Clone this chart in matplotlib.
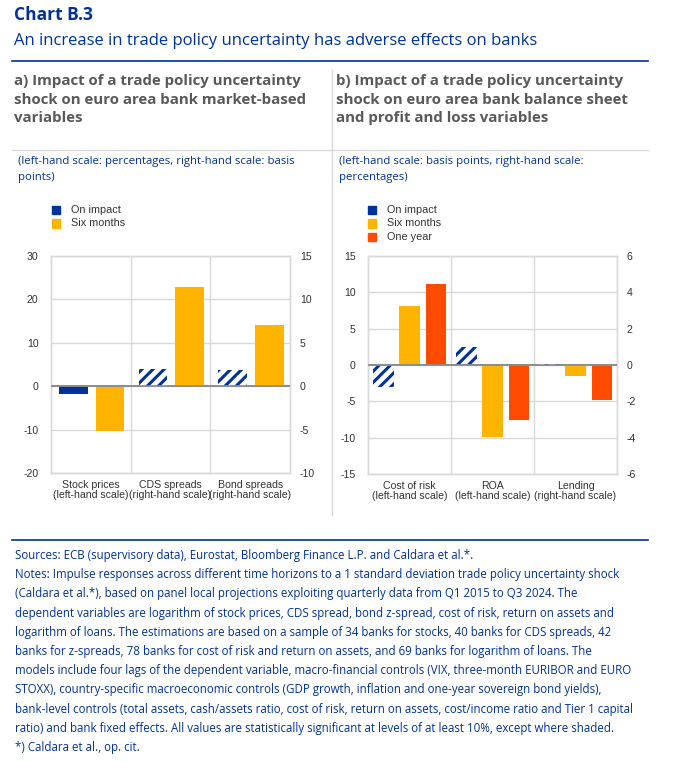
import matplotlib
matplotlib.use("Agg")
import matplotlib.pyplot as plt
from matplotlib.lines import Line2D

plt.rcParams['hatch.linewidth'] = 2.2

BLUE = '#003299'
YELLOW = '#FFB400'
ORANGE = '#FF4B00'
GRID = '#D9D9D9'
ZERO = '#8C8C8C'
TXT = '#333333'

# ---------------- data ----------------
a_categories = ['Stock prices\n(left-hand scale)', 'CDS spreads\n(right-hand scale)', 'Bond spreads\n(right-hand scale)']
a_axis = ['left', 'right', 'right']
a_on_impact = [-1.9, 2.0, 1.85]
a_six_months = [-10.3, 11.4, 7.0]
a_impact_hatched = [False, True, True]
a_left_ticks = [-20, -10, 0, 10, 20, 30]
a_right_ticks = [-10, -5, 0, 5, 10, 15]

b_categories = ['Cost of risk\n(left-hand scale)', 'ROA\n(left-hand scale)', 'Lending\n(right-hand scale)']
b_axis = ['left', 'left', 'right']
b_on_impact = [-3.0, 2.5, 0.06]
b_six_months = [8.1, -9.9, -0.6]
b_one_year = [11.1, -7.6, -1.9]
b_impact_hatched = [True, True, True]
b_left_ticks = [-15, -10, -5, 0, 5, 10, 15]
b_right_ticks = [-6, -4, -2, 0, 2, 4, 6]

FIG_W, FIG_H = 689, 762
fig = plt.figure(figsize=(FIG_W / 100, FIG_H / 100), dpi=100)

def fx(px):
    return px / FIG_W

def fy(py):
    return 1 - py / FIG_H

TICKFONT = dict(family=['Liberation Sans', 'DejaVu Sans'], size=7.6, color=TXT)


def make_panel(rect, categories, axis_side, series, colors, hatched, left_ticks, right_ticks, width, offsets):
    ax = fig.add_axes(rect)
    ax2 = ax.twinx()
    ax.set_ylim(left_ticks[0], left_ticks[-1])
    ax2.set_ylim(right_ticks[0], right_ticks[-1])
    ax.set_xlim(-0.5, len(categories) - 0.5)
    ax.set_yticks(left_ticks)
    ax2.set_yticks(right_ticks)
    ax.set_yticklabels([str(t) for t in left_ticks], **TICKFONT)
    ax2.set_yticklabels([str(t) for t in right_ticks], **TICKFONT)
    ax.tick_params(axis='y', length=0, pad=9)
    ax2.tick_params(axis='y', length=0, pad=7)
    ax.set_xticks(range(len(categories)))
    ax.set_xticklabels(categories, **TICKFONT, linespacing=1.05)
    ax.tick_params(axis='x', length=0, pad=5)
    for a in (ax, ax2):
        for s in a.spines.values():
            s.set_color(GRID)
            s.set_linewidth(1.0)
    ax.set_axisbelow(True)
    ax.grid(axis='y', color=GRID, linewidth=1.0)
    for i in range(len(categories) - 1):
        ax.axvline(i + 0.5, color=GRID, linewidth=1.0, zorder=0)
    ax.axhline(0, color=ZERO, linewidth=1.2, zorder=3)
    for i, side in enumerate(axis_side):
        target = ax if side == 'left' else ax2
        for k, (vals, col) in enumerate(zip(series, colors)):
            if k == 0 and hatched[i]:
                target.bar(i + offsets[k], vals[i], width=width, facecolor='white',
                           edgecolor=BLUE, linewidth=0, hatch='///', zorder=2)
            else:
                target.bar(i + offsets[k], vals[i], width=width, color=col,
                           linewidth=0, zorder=2)
    ax2.axhline(0, color=ZERO, linewidth=1.2, zorder=3)
    return ax, ax2


# Panel a
axa = make_panel([fx(51), fy(473), fx(239), (473 - 256) / FIG_H],
                 a_categories, a_axis, [a_on_impact, a_six_months], [BLUE, YELLOW],
                 a_impact_hatched, a_left_ticks, a_right_ticks, 0.36, [-0.22, 0.24])

# Panel b
axb = make_panel([fx(368), fy(474), fx(249), (474 - 256) / FIG_H],
                 b_categories, b_axis, [b_on_impact, b_six_months, b_one_year],
                 [BLUE, YELLOW, ORANGE], b_impact_hatched, b_left_ticks, b_right_ticks,
                 0.25, [-0.315, 0.0, 0.32])

# Legends
LEGFONT = dict(family=['Liberation Sans', 'DejaVu Sans'], size=7.8, color=TXT)

def legend(x0, y0, labels, colors):
    for j, (lab, col) in enumerate(zip(labels, colors)):
        y = y0 + j * 13.5
        fig.patches.append(plt.Rectangle((fx(x0 - 4), fy(y + 4)), 8 / FIG_W, 8 / FIG_H,
                                         transform=fig.transFigure, color=col))
        fig.text(fx(x0 + 15), fy(y), lab, va='center', ha='left', **LEGFONT)

legend(56, 210, ['On impact', 'Six months'], [BLUE, YELLOW])
legend(372, 210, ['On impact', 'Six months', 'One year'], [BLUE, YELLOW, ORANGE])

# Titles
HFONT = ['Open Sans', 'DejaVu Sans']
fig.text(fx(14), fy(6), 'Chart B.3', ha='left', va='top', fontsize=12.5, fontweight='bold',
         color=BLUE, family=HFONT)
fig.text(fx(14), fy(33), 'An increase in trade policy uncertainty has adverse effects on banks',
         ha='left', va='top', fontsize=12, color=BLUE, family=HFONT)
fig.add_artist(Line2D([fx(12), fx(648)], [fy(61), fy(61)], color=BLUE, linewidth=1.2,
                      transform=fig.transFigure))

PT = dict(ha='left', va='top', fontsize=10.8, fontweight='bold', color='#595959',
          family=HFONT, linespacing=1.42)
fig.text(fx(14), fy(74), 'a) Impact of a trade policy uncertainty\nshock on euro area bank market-based\nvariables', **PT)
fig.text(fx(336), fy(74), 'b) Impact of a trade policy uncertainty\nshock on euro area bank balance sheet\nand profit and loss variables', **PT)

fig.add_artist(Line2D([fx(12), fx(648)], [fy(150), fy(150)], color=GRID, linewidth=1.0,
                      transform=fig.transFigure))
fig.add_artist(Line2D([fx(332), fx(332)], [fy(70), fy(515)], color=GRID, linewidth=1.0,
                      transform=fig.transFigure))

UT = dict(ha='left', va='top', fontsize=8.2, color=BLUE, family=HFONT, linespacing=1.6)
fig.text(fx(18), fy(156), '(left-hand scale: percentages, right-hand scale: basis\npoints)', **UT)
fig.text(fx(339), fy(156), '(left-hand scale: basis points, right-hand scale:\npercentages)', **UT)

fig.add_artist(Line2D([fx(12), fx(648)], [fy(540), fy(540)], color=BLUE, linewidth=1.2,
                      transform=fig.transFigure))

notes = ("Sources: ECB (supervisory data), Eurostat, Bloomberg Finance L.P. and Caldara et al.*.\n"
         "Notes: Impulse responses across different time horizons to a 1 standard deviation trade policy uncertainty shock\n"
         "(Caldara et al.*), based on panel local projections exploiting quarterly data from Q1 2015 to Q3 2024. The\n"
         "dependent variables are logarithm of stock prices, CDS spread, bond z-spread, cost of risk, return on assets and\n"
         "logarithm of loans. The estimations are based on a sample of 34 banks for stocks, 40 banks for CDS spreads, 42\n"
         "banks for z-spreads, 78 banks for cost of risk and return on assets, and 69 banks for logarithm of loans. The\n"
         "models include four lags of the dependent variable, macro-financial controls (VIX, three-month EURIBOR and EURO\n"
         "STOXX), country-specific macroeconomic controls (GDP growth, inflation and one-year sovereign bond yields),\n"
         "bank-level controls (total assets, cash/assets ratio, cost of risk, return on assets, cost/income ratio and Tier 1 capital\n"
         "ratio) and bank fixed effects. All values are statistically significant at levels of at least 10%, except where shaded.\n"
         "*) Caldara et al., op. cit.")
fig.text(fx(15), fy(549), notes, ha='left', va='top', fontsize=8.3, color=BLUE, family=HFONT,
         linespacing=1.62)

fig.savefig('out.png', dpi=100, facecolor='white')
